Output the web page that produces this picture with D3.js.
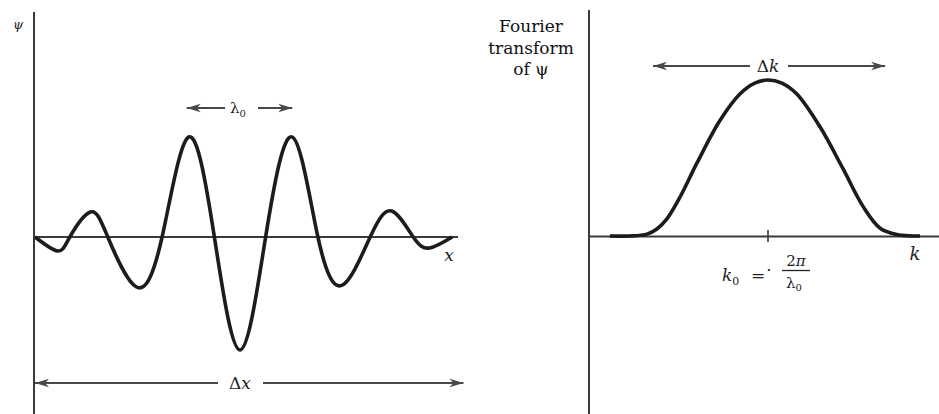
<!DOCTYPE html>
<html>
<head>
<meta charset="utf-8">
<script src="https://cdn.jsdelivr.net/npm/d3@7"></script>
<style>
  body { margin: 0; background: #fff; }
  svg { display: block; }
  text { font-family: "DejaVu Serif", "Liberation Serif", serif; fill: #222; }
</style>
</head>
<body>
<svg id="chart" width="939" height="414"></svg>
<script>
// Wave packet psi(x): x measured in wavelengths lambda0 from the packet centre
const packetX   = [-2.00, -1.78, -1.66, -1.46, -1.29, -1.01, -0.76, -0.50, -0.25, 0.00, 0.25, 0.51, 0.76, 1.00, 1.27, 1.48, 1.69, 1.85, 2.07];
const packetPsi = [ 0.00, -0.14,  0.00,  0.25,  0.00, -0.50,  0.00,  1.00,  0.00, -1.13, 0.00, 1.00, 0.00, -0.48, 0.00, 0.26, 0.00, -0.11, 0.00];

// Fourier transform amplitude against k (k0 = 5 in these units)
const spectrumK = [0.56, 1.12, 1.60, 1.88, 2.16, 2.53, 3.01, 3.65, 4.21, 4.63, 5.00, 5.39, 5.81, 6.46, 7.11, 7.67, 8.15, 8.62, 9.27];
const spectrumA = [0.00, 0.00, 0.012, 0.045, 0.11, 0.25, 0.47, 0.74, 0.91, 0.98, 1.00, 0.98, 0.91, 0.70, 0.43, 0.19, 0.05, 0.01, 0.00];
const k0 = 5;

// Width markers (data units of each panel)
const lambdaSpan = [-0.52, 0.51];
const deltaXSpan = [-2.00, 2.18];
const deltaKSpan = [1.77, 8.29];

const svg = d3.select("#chart");
const ink = "#1c1c1c", axisInk = "#3a3a3a", arrowInk = "#484848";

// arrowhead marker
const defs = svg.append("defs");
defs.append("marker")
  .attr("id", "head")
  .attr("viewBox", "-14 -5 15 10")
  .attr("refX", 0).attr("refY", 0)
  .attr("markerWidth", 15).attr("markerHeight", 10)
  .attr("markerUnits", "userSpaceOnUse")
  .attr("orient", "auto-start-reverse")
  .append("path")
  .attr("d", "M0,0 L-14,-4.2 L-10,0 L-14,4.2 Z")
  .attr("fill", arrowInk);

// ---------- left panel: the wave packet ----------
const xPsi = d3.scaleLinear().domain([-2, 2]).range([35, 445]);
const yPsi = d3.scaleLinear().domain([-1, 1]).range([337, 137]);

const left = svg.append("g");
// psi axis (vertical) and x axis (horizontal)
left.append("line").attr("x1", 34).attr("x2", 34).attr("y1", 12).attr("y2", 414)
  .attr("stroke", axisInk).attr("stroke-width", 2);
left.append("line").attr("x1", 34).attr("x2", 458).attr("y1", yPsi(0)).attr("y2", yPsi(0))
  .attr("stroke", axisInk).attr("stroke-width", 2);

const packet = d3.line()
  .x((d, i) => xPsi(packetX[i]))
  .y(d => yPsi(d))
  .curve(d3.curveNatural);
left.append("path")
  .attr("d", packet(packetPsi))
  .attr("fill", "none").attr("stroke", ink).attr("stroke-width", 3.6)
  .attr("stroke-linejoin", "round");

left.append("text").attr("x", 18).attr("y", 29).attr("text-anchor", "middle")
  .attr("font-size", 13).attr("font-style", "italic").text("ψ");
left.append("text").attr("x", 449).attr("y", 261).attr("text-anchor", "middle")
  .attr("font-size", 17).attr("font-style", "italic").text("x");

// a two-headed arrow with a label sitting in a gap in its middle
function spanArrow(g, x0, x1, y, gap0, gap1) {
  g.append("line").attr("x1", gap0).attr("x2", x0).attr("y1", y).attr("y2", y)
    .attr("stroke", arrowInk).attr("stroke-width", 2).attr("marker-end", "url(#head)");
  g.append("line").attr("x1", gap1).attr("x2", x1).attr("y1", y).attr("y2", y)
    .attr("stroke", arrowInk).attr("stroke-width", 2).attr("marker-end", "url(#head)");
}

// lambda0 marker between the two main crests
spanArrow(left, xPsi(lambdaSpan[0]), xPsi(lambdaSpan[1]), 108, 225, 258);
const lam = left.append("text").attr("x", 230).attr("y", 113).attr("font-size", 15);
lam.append("tspan").text("λ");
lam.append("tspan").attr("font-size", 10).attr("dy", 4).text("0");

// delta x marker along the bottom
spanArrow(left, xPsi(deltaXSpan[0]), xPsi(deltaXSpan[1]), 383, 218, 263);
const dx = left.append("text").attr("x", 240).attr("y", 389).attr("text-anchor", "middle").attr("font-size", 17);
dx.append("tspan").text("Δ");
dx.append("tspan").attr("font-style", "italic").text("x");

// ---------- right panel: the Fourier transform ----------
const kScale = d3.scaleLinear().domain([0, k0]).range([590, 768]);
const aScale = d3.scaleLinear().domain([0, 1]).range([236, 80]);

const right = svg.append("g");
right.append("line").attr("x1", 589).attr("x2", 589).attr("y1", 10).attr("y2", 414)
  .attr("stroke", axisInk).attr("stroke-width", 2);

const kAxisScale = kScale.copy().domain([0, 9.8]).range([589, kScale(9.8)]);
const kAxis = right.append("g")
  .attr("transform", `translate(0,${aScale(0)})`)
  .call(d3.axisBottom(kAxisScale).tickValues([k0]).tickSizeOuter(0).tickSizeInner(6).tickFormat(""));
kAxis.select(".domain").attr("stroke", axisInk).attr("stroke-width", 2);
kAxis.selectAll(".tick line").attr("y1", -6).attr("y2", 6)
  .attr("stroke", axisInk).attr("stroke-width", 1.6);

const spectrum = d3.line()
  .x((d, i) => kScale(spectrumK[i]))
  .y(d => aScale(d))
  .curve(d3.curveCatmullRom.alpha(0.5));
right.append("path")
  .attr("d", spectrum(spectrumA))
  .attr("fill", "none").attr("stroke", ink).attr("stroke-width", 3.6)
  .attr("stroke-linejoin", "round");

right.append("text").attr("x", 915).attr("y", 260).attr("text-anchor", "middle")
  .attr("font-size", 18).attr("font-style", "italic").text("k");

// delta k marker above the peak
spanArrow(right, kScale(deltaKSpan[0]), kScale(deltaKSpan[1]), 66, 750, 788);
const dk = right.append("text").attr("x", kScale(k0)).attr("y", 72).attr("text-anchor", "middle").attr("font-size", 17);
dk.append("tspan").text("Δ");
dk.append("tspan").attr("font-style", "italic").text("k");

// panel title
const title = right.append("text").attr("text-anchor", "middle").attr("font-size", 17).style("fill", "#111");
[["Fourier", 32], ["transform", 54], ["of ψ", 75]].forEach(([t, y]) => {
  title.append("tspan").attr("x", 531).attr("y", y).text(t);
});

// k0 = 2π / λ0 under the tick
const eq = right.append("g").attr("font-size", 17);
const kk = eq.append("text").attr("x", 722).attr("y", 281);
kk.append("tspan").attr("font-style", "italic").text("k");
kk.append("tspan").attr("font-size", 11).attr("dy", 4).text("0");
eq.append("text").attr("x", 758).attr("y", 281).attr("text-anchor", "middle").text("=");
eq.append("text").attr("x", 769).attr("y", 276).attr("text-anchor", "middle").text("·");
const num = eq.append("text").attr("x", 796).attr("y", 266).attr("text-anchor", "middle").attr("font-size", 15);
num.append("tspan").text("2");
num.append("tspan").attr("font-style", "italic").text("π");
eq.append("line").attr("x1", 782).attr("x2", 810).attr("y1", 270.5).attr("y2", 270.5)
  .attr("stroke", "#222").attr("stroke-width", 1.3);
const den = eq.append("text").attr("x", 786).attr("y", 288).attr("font-size", 15);
den.append("tspan").text("λ");
den.append("tspan").attr("font-size", 10).attr("dy", 3).text("0");
</script>
</body>
</html>
